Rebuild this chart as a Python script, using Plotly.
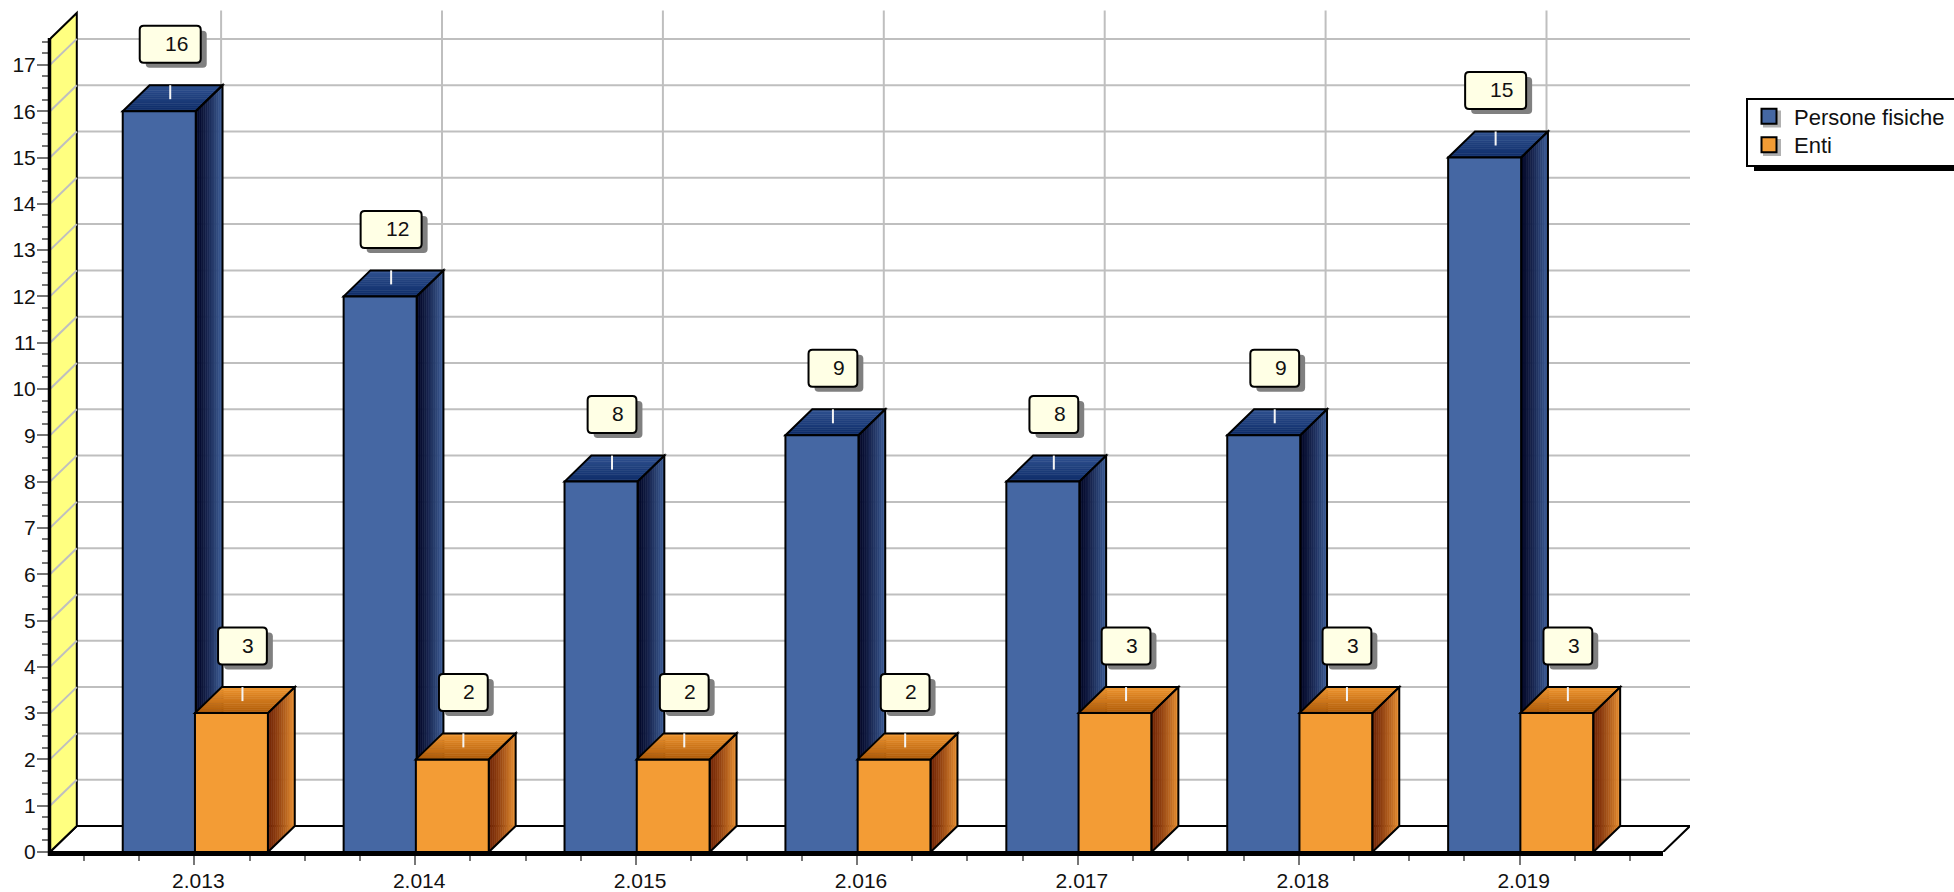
import numpy as np
import plotly.graph_objects as go

# ---- data ----
categories = ["2.013", "2.014", "2.015", "2.016", "2.017", "2.018", "2.019"]
persone_fisiche = [16, 12, 8, 9, 8, 9, 15]
enti = [3, 2, 2, 2, 3, 3, 3]
series_names = ["Persone fisiche", "Enti"]
y_ticks = list(range(0, 18))

# ---- layout geometry (page pixels) ----
W, H = 1954, 892
LEFT, RIGHT, TOP, BOTTOM = 50, 1690, 10, 852
FIRST_TICK = 194.3
PX_X = 220.9   # pixels per category
PX_Y = 46.3    # pixels per value unit
DEPTH_X, DEPTH_Y = 26.8, 26.0
BAR_W = 73 / PX_X
AX_END = 1663

xr = [(LEFT - FIRST_TICK) / PX_X, (RIGHT - FIRST_TICK) / PX_X]
yr = [0, (BOTTOM - TOP) / PX_Y]
dX, dY = DEPTH_X / PX_X, DEPTH_Y / PX_Y
xleft, xright = xr


def px(p):
    return (p - LEFT) / (RIGHT - LEFT)


def py(p):
    return (BOTTOM - p) / (BOTTOM - TOP)


def poly(points):
    return "M" + "L".join(f"{a:.5f},{b:.5f}" for a, b in points) + "Z"


def mix(c0, c1, t):
    v = [round(a + (b - a) * t) for a, b in zip(c0, c1)]
    return f"rgb({v[0]},{v[1]},{v[2]})"


BLUE = "#4567A3"
ORANGE = "#F39C35"
GRID = "#BFBFBF"
STYLE = {
    0: dict(front=BLUE, side=((3, 7, 40), (62, 95, 154)), top=((14, 44, 104), (48, 82, 144)), off=-0.324),
    1: dict(front=ORANGE, side=((115, 38, 6), (232, 144, 49)), top=((174, 90, 8), (239, 150, 48)), off=0.003),
}

shapes = []


def add(**k):
    shapes.append(k)


def add_path(path, fill=None, line=None, width=0, layer="below"):
    add(type="path", path=path, xref="x", yref="y", layer=layer,
        fillcolor=fill or "rgba(0,0,0,0)",
        line=dict(color=line or "rgba(0,0,0,0)", width=width))


# floor
add_path(poly([(xleft, 0), (xleft + dX, dY), (xright, dY), (xright - dX, 0)]), "white", "black", 2)
# grid: vertical lines on the back wall
for i in range(len(categories)):
    add(type="line", xref="x", yref="y", layer="below", x0=i + dX, x1=i + dX, y0=dY, y1=yr[1] - 0.01,
        line=dict(color=GRID, width=2))
# grid: back wall horizontals
for v in y_ticks[1:]:
    add(type="line", xref="x", yref="y", layer="below", x0=xleft + dX, x1=xright, y0=v + dY, y1=v + dY,
        line=dict(color=GRID, width=2))
# left wall
wall_top = 17.56
add_path(poly([(xleft, 0), (xleft + dX, dY), (xleft + dX, wall_top + dY), (xleft, wall_top)]), "#FFFF80", "black", 2)
for v in y_ticks[1:]:
    add(type="line", xref="x", yref="y", layer="below", x0=xleft, x1=xleft + dX, y0=v, y1=v + dY,
        line=dict(color=GRID, width=2))

N_STRIPS = 14


def faces(series_idx, i, v, layer):
    st = STYLE[series_idx]
    L = i + st["off"]
    R = L + BAR_W
    for k in range(N_STRIPS):
        t0, t1 = k / N_STRIPS, (k + 1) / N_STRIPS
        c = mix(*st["side"], ((k + 0.5) / N_STRIPS) ** 1.3)
        add_path(poly([(R + t0 * dX, t0 * dY), (R + t1 * dX, t1 * dY), (R + t1 * dX, v + t1 * dY), (R + t0 * dX, v + t0 * dY)]),
                 c, c, 0.6, layer)
        c = mix(*st["top"], (k + 0.5) / N_STRIPS)
        add_path(poly([(L + t0 * dX, v + t0 * dY), (R + t0 * dX, v + t0 * dY), (R + t1 * dX, v + t1 * dY), (L + t1 * dX, v + t1 * dY)]),
                 c, c, 0.6, layer)
    add_path(poly([(R, 0), (R + dX, dY), (R + dX, v + dY), (R, v)]), None, "black", 2, layer)
    add_path(poly([(L, v), (L + dX, v + dY), (R + dX, v + dY), (R, v)]), None, "black", 2, layer)


for i, v in enumerate(persone_fisiche):
    faces(0, i, v, "below")
for i, v in enumerate(enti):
    faces(1, i, v, "above")


def rounded(x0, x1, y0, y1, r=4):
    rx, ry = r / PX_X, r / PX_Y
    return (f"M{x0 + rx:.5f},{y1:.5f}L{x1 - rx:.5f},{y1:.5f}Q{x1:.5f},{y1:.5f} {x1:.5f},{y1 - ry:.5f}"
            f"L{x1:.5f},{y0 + ry:.5f}Q{x1:.5f},{y0:.5f} {x1 - rx:.5f},{y0:.5f}"
            f"L{x0 + rx:.5f},{y0:.5f}Q{x0:.5f},{y0:.5f} {x0:.5f},{y0 + ry:.5f}"
            f"L{x0:.5f},{y1 - ry:.5f}Q{x0:.5f},{y1:.5f} {x0 + rx:.5f},{y1:.5f}Z")


annotations = []


def callout(series_idx, i, v):
    st = STYLE[series_idx]
    cx = i + st["off"] + BAR_W / 2 + 11 / PX_X
    half = (30.5 if v >= 10 else 24.4) / PX_X
    y0, y1 = v + 48.5 / PX_Y, v + 85.5 / PX_Y
    # leader
    add(type="line", xref="x", yref="y", layer="above", x0=cx, x1=cx, y0=v + 12 / PX_Y, y1=v + DEPTH_Y / PX_Y,
        line=dict(color="#F5F5F5", width=2))
    # shadow + box
    add_path(rounded(cx - half + 6 / PX_X, cx + half + 6 / PX_X, y0 - 5 / PX_Y, y1 - 5 / PX_Y), "#808080", None, 0, "above")
    add_path(rounded(cx - half, cx + half, y0, y1), "#FFFFE5", "black", 2, "above")
    annotations.append(dict(x=cx, y=(y0 + y1) / 2, xref="x", yref="y", text=str(v), showarrow=False,
                            xshift=6, yshift=1, font=dict(size=21, color="#111111")))


for i, v in enumerate(persone_fisiche):
    callout(0, i, v)
for i, v in enumerate(enti):
    callout(1, i, v)

# axis lines (drawn in paper space so they are not clipped)
add(type="line", xref="paper", yref="paper", layer="above", x0=px(LEFT - 1), x1=px(AX_END), y0=py(BOTTOM + 2), y1=py(BOTTOM + 2),
    line=dict(color="black", width=4))
add(type="line", xref="paper", yref="paper", layer="above", x0=px(LEFT - 0.5), x1=px(LEFT - 0.5), y0=py(38), y1=py(BOTTOM + 4),
    line=dict(color="black", width=3.5))

# legend frame (runs off the right page edge, so no right border)
add(type="rect", xref="paper", yref="paper", layer="above", x0=px(1754), x1=px(W), y0=py(171), y1=py(160),
    fillcolor="black", line=dict(width=0))
add(type="rect", xref="paper", yref="paper", layer="above", x0=px(1747), x1=px(W), y0=py(166), y1=py(99),
    fillcolor="white", line=dict(width=0))
for y_edge in (99, 166):
    add(type="line", xref="paper", yref="paper", layer="above", x0=px(1747), x1=px(W), y0=py(y_edge), y1=py(y_edge),
        line=dict(color="black", width=2))
add(type="line", xref="paper", yref="paper", layer="above", x0=px(1747), x1=px(1747), y0=py(98), y1=py(167),
    line=dict(color="black", width=2))
for cy in (116.5, 145):
    add(type="rect", xref="paper", yref="paper", layer="above", x0=px(1763), x1=px(1781), y0=py(cy + 11), y1=py(cy - 6),
        fillcolor="#B0B0B0", line=dict(width=0))

fig = go.Figure()
for idx, vals in enumerate((persone_fisiche, enti)):
    st = STYLE[idx]
    fig.add_trace(go.Bar(x=list(range(len(categories))), y=vals, width=BAR_W, offset=st["off"], name=series_names[idx],
                         marker=dict(color=st["front"], line=dict(color="black", width=2)),
                         showlegend=False, hoverinfo="y"))
for idx, lg in zip((0, 1), ("legend", "legend2")):
    fig.add_trace(go.Scatter(x=[None], y=[None], mode="markers", name=series_names[idx], legend=lg,
                             marker=dict(symbol="square", size=15, color=STYLE[idx]["front"],
                                         line=dict(color="black", width=2))))

FONT = "Liberation Sans, Arial, sans-serif"
legend_style = dict(xanchor="left", yanchor="middle", bgcolor="rgba(0,0,0,0)", itemwidth=40,
                    font=dict(size=22), borderwidth=0)
TICK = "#777777"
fig.update_layout(
    width=W, height=H, autosize=False, barmode="overlay",
    margin=dict(l=LEFT, r=W - RIGHT, t=TOP, b=H - BOTTOM, pad=0, autoexpand=False),
    paper_bgcolor="white", plot_bgcolor="rgba(0,0,0,0)",
    font=dict(family=FONT, color="#111111", size=21),
    shapes=shapes, annotations=annotations,
    legend=dict(x=px(1744), y=py(116.5), **legend_style),
    legend2=dict(x=px(1744), y=py(145), **legend_style),
    xaxis=dict(range=xr, tickmode="array", tickvals=list(range(len(categories))), ticktext=categories,
               showgrid=False, zeroline=False, showline=False, ticks="outside", ticklen=12, tickwidth=2,
               tickcolor=TICK, tickfont=dict(size=21), ticklabelshift=4, ticklabelstandoff=-2, automargin=False,
               minor=dict(tickmode="array", tickvals=[float(a) for a in np.arange(-0.5, 6.51, 0.25)], ticks="outside",
                          ticklen=8, tickwidth=2, tickcolor=TICK, showgrid=False)),
    yaxis=dict(range=yr, tickmode="array", tickvals=y_ticks, showgrid=False, zeroline=False, showline=False,
               ticks="outside", ticklen=12, tickwidth=2, tickcolor=TICK, tickfont=dict(size=21), ticklabelstandoff=-3,
               automargin=False,
               minor=dict(tickmode="array", tickvals=[float(a) for a in np.arange(0, 17.51, 0.25)], ticks="outside",
                          ticklen=7, tickwidth=2, tickcolor=TICK, showgrid=False)),
)
fig.write_html("out.html", config=dict(displayModeBar=False),
               post_script="document.body.style.margin='0';document.documentElement.style.overflow='hidden';")
